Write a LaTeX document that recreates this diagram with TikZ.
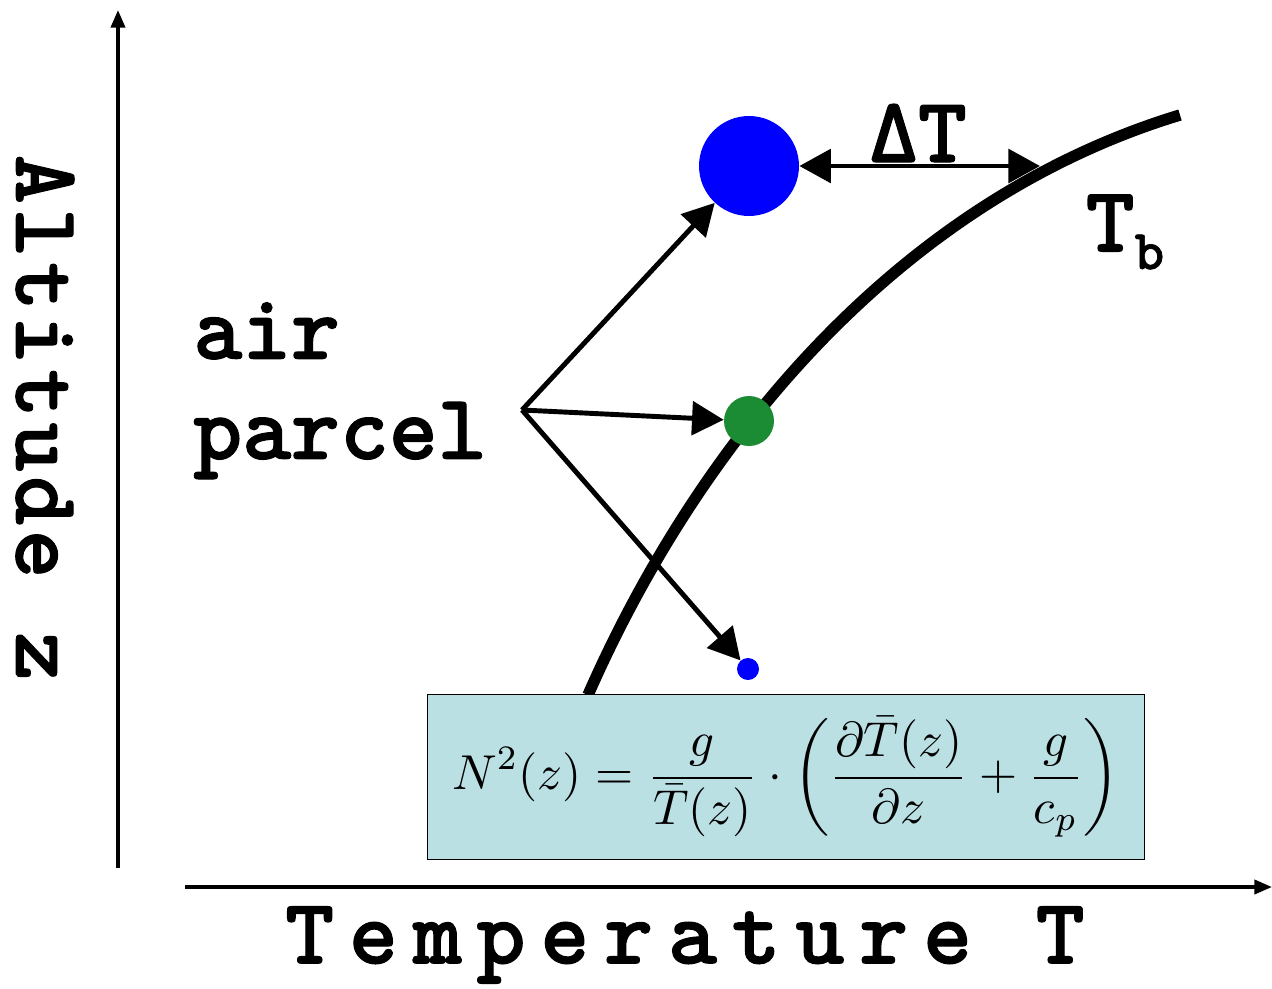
\documentclass[tikz,border=0pt]{standalone}
\usepackage{amsmath}
\usepackage{graphicx}
\usepackage{fontspec}
\newfontfamily\typebold{lmmonolt10-bold.otf}[FakeBold=1.2]
\newfontfamily\typewide{lmmonolt10-bold.otf}[LetterSpace=16, FakeBold=1.2]
\newfontfamily\typetall{lmmonolt10-bold.otf}[LetterSpace=5, FakeBold=1.2]
\usetikzlibrary{arrows.meta, positioning}
\definecolor{boxfill}{RGB}{187,224,228}
\definecolor{parcelgreen}{RGB}{28,140,52}

\begin{document}
\begin{tikzpicture}[
        x=0.02cm, y=-0.02cm,
        lbl/.style={font=\typebold\fontsize{53}{57}\selectfont, inner sep=0pt},
        parcel/.style={circle, inner sep=0pt},
        arrow/.style={-{Triangle[length=18pt,width=19pt]}, line width=2.8pt},
        axis/.style={-{Triangle[length=10pt,width=8pt]}, line width=2pt}
    ]
    \useasboundingbox (0,0) rectangle (1272,988);
%
    % Axes
    \coordinate (origin) at (118,868);
    \coordinate (ytop) at (118,10);
    \coordinate (xleft) at (185,887);
    \coordinate (xright) at (1272,887);
    \draw[axis] (origin) -- (ytop);
    \draw[axis] (xleft) -- (xright);
    \node[lbl, rotate=-90, font=\typetall\fontsize{53}{57}\selectfont] (alt) at (45,418) {Altitude z};
    \node[lbl, font=\typewide\fontsize{53}{57}\selectfont] (temp) at (685,945) {Temperature T};
%
    % Background profile T_b
    \draw[line width=6.5pt] (588,695) .. controls (700,440) and (900,200) .. (1180,115);
    \node[lbl] (tb) at (1125,232) {T\raisebox{-10pt}{\fontsize{32}{32}\selectfont b}};
%
    % Nodes
    \node[parcel, fill=blue, minimum size=2cm] (big) at (749,166) {};
    \node[parcel, fill=parcelgreen, minimum size=1cm] (mid) at (749,421) {};
    \node[parcel, fill=blue, minimum size=0.44cm] (small) at (748,669) {};
    \node[lbl, align=left, anchor=north west] (air) at (193,302) {air\\parcel};
    \coordinate (start) at (522,410);
    \coordinate (curve) at (1040,166);
    \node[lbl] (dt) at (918,133) {ΔT};
%
    % Arrows
    \draw[arrow] (start) -- (big);
    \draw[arrow] (start) -- (mid);
    \draw[arrow] (start) -- (small);
    \draw[arrow, {Triangle[length=18pt,width=19pt]}-{Triangle[length=18pt,width=19pt]}] (big) -- (curve);
%
    % Formula box
    \node[draw, line width=1pt, fill=boxfill, minimum width=14.34cm, minimum height=3.3cm] (nsq) at (786,777)
        {\scalebox{2.79}{$\displaystyle N^2(z)=\frac{g}{\bar{T}(z)}\cdot\left(\frac{\partial\bar{T}(z)}{\partial z}+\frac{g}{c_p}\right)$}};
%
\end{tikzpicture}
\end{document}
